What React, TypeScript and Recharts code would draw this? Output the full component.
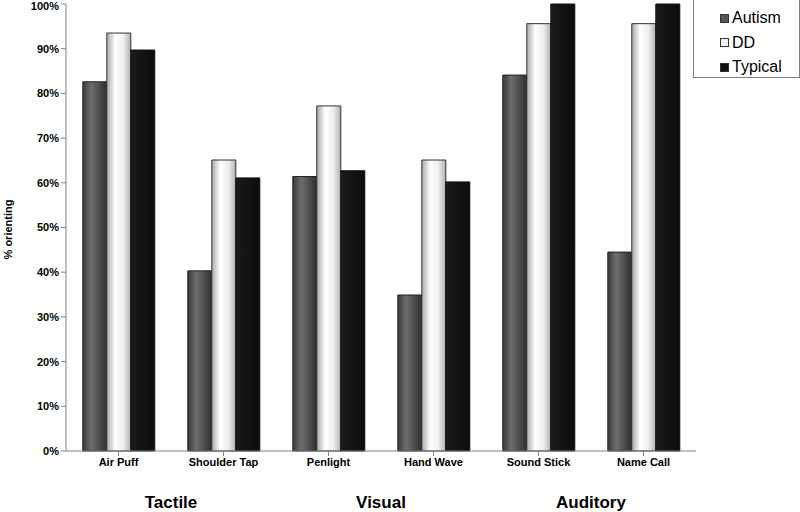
import React from 'react';
import { BarChart, Bar, XAxis, YAxis, Label } from 'recharts';

const categories = ['Air Puff', 'Shoulder Tap', 'Penlight', 'Hand Wave', 'Sound Stick', 'Name Call'];
const autism = [82.6, 40.3, 61.4, 34.9, 84.1, 44.5];
const dd = [93.5, 65.1, 77.2, 65.1, 95.6, 95.6];
const typical = [89.7, 61.1, 62.7, 60.2, 100, 100];
const groups = ['Tactile', 'Visual', 'Auditory'];
const groupPositions = [1, 3, 5];
const yTicks = [0, 10, 20, 30, 40, 50, 60, 70, 80, 90, 100];

const seriesNames = ['Autism', 'DD', 'Typical'];
const legendSwatch = ['#555555', '#f4f4f4', '#111111'];

const data = categories.map((c, i) => ({
  name: c,
  pos: i + 0.5,
  autism: autism[i],
  dd: dd[i],
  typical: typical[i],
}));

const FONT = '"Liberation Sans", Arial, sans-serif';

const GroupTick = (props: any) => {
  const { x, y, payload } = props;
  const idx = groupPositions.indexOf(payload.value);
  return (
    <text x={x} y={y + 27} textAnchor="middle" fontFamily={FONT} fontWeight="bold" fontSize={17} fill="#000">
      {groups[idx]}
    </text>
  );
};

const YLabel = (props: any) => {
  const vb = props.viewBox || { y: 4, height: 447 };
  const cy = vb.y + vb.height / 2 + 2;
  return (
    <text
      x={12}
      y={cy}
      transform={`rotate(-90, 12, ${cy})`}
      textAnchor="middle"
      fontFamily={FONT}
      fontWeight="bold"
      fontSize={11}
      fill="#000"
    >
      % orienting
    </text>
  );
};

export default function App() {
  return (
    <div style={{ position: 'absolute', left: 0, top: 0, width: 800, height: 512, background: '#fff' }}>
      <BarChart
        width={800}
        height={512}
        data={data}
        margin={{ top: 4, right: 104, bottom: 0, left: 0 }}
        barCategoryGap="16%"
        barGap={0}
      >
        <defs>
          <linearGradient id="gAutism" x1="0" y1="0" x2="1" y2="0">
            <stop offset="0%" stopColor="#3a3a3a" />
            <stop offset="35%" stopColor="#6e6e6e" />
            <stop offset="100%" stopColor="#2e2e2e" />
          </linearGradient>
          <linearGradient id="gDD" x1="0" y1="0" x2="1" y2="0">
            <stop offset="0%" stopColor="#a8a8a8" />
            <stop offset="35%" stopColor="#ffffff" />
            <stop offset="70%" stopColor="#ededed" />
            <stop offset="100%" stopColor="#b0b0b0" />
          </linearGradient>
          <linearGradient id="gTyp" x1="0" y1="0" x2="1" y2="0">
            <stop offset="0%" stopColor="#1c1c1c" />
            <stop offset="40%" stopColor="#141414" />
            <stop offset="100%" stopColor="#0c0c0c" />
          </linearGradient>
        </defs>
        <XAxis
          dataKey="name"
          interval={0}
          height={22}
          tickSize={5}
          axisLine={{ stroke: '#808080' }}
          tickLine={{ stroke: '#808080' }}
          tick={{ fontFamily: FONT, fontWeight: 'bold', fontSize: 11, fill: '#000' }}
        />
        <XAxis
          xAxisId="grp"
          dataKey="pos"
          type="number"
          domain={[0, 6]}
          ticks={groupPositions}
          axisLine={false}
          tickLine={false}
          height={39}
          tick={<GroupTick />}
        />
        <YAxis
          width={66}
          domain={[0, 100]}
          ticks={yTicks}
          tickFormatter={(v: number) => `${v}%`}
          tickSize={5}
          axisLine={{ stroke: '#808080' }}
          tickLine={{ stroke: '#808080' }}
          tick={{ fontFamily: FONT, fontWeight: 'bold', fontSize: 11, fill: '#000' }}
        >
          <Label content={<YLabel />} />
        </YAxis>
        <Bar dataKey="autism" name="Autism" fill="url(#gAutism)" stroke="#222" strokeWidth={1} isAnimationActive={false} />
        <Bar dataKey="dd" name="DD" fill="url(#gDD)" stroke="#333" strokeWidth={1} isAnimationActive={false} />
        <Bar dataKey="typical" name="Typical" fill="url(#gTyp)" stroke="#111" strokeWidth={1} isAnimationActive={false} />
      </BarChart>
      <div
        style={{
          position: 'absolute',
          left: 693,
          top: 0,
          width: 105,
          height: 77,
          border: '1px solid #808080',
          borderTop: 'none',
          fontFamily: FONT,
          fontSize: 16,
          color: '#000',
        }}
      >
        {seriesNames.map((n, i) => (
          <div key={n} style={{ position: 'absolute', left: 26, top: 8 + i * 24.5, height: 20, display: 'flex', alignItems: 'center' }}>
            <span
              style={{
                display: 'inline-block',
                width: 7,
                height: 7,
                background: legendSwatch[i],
                border: '1px solid #333',
                marginRight: 3,
              }}
            />
            <span>{n}</span>
          </div>
        ))}
      </div>
    </div>
  );
}
